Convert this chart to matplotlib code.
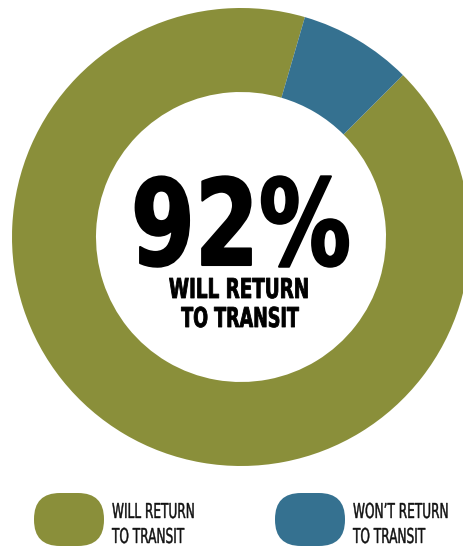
import matplotlib
matplotlib.use("Agg")
import matplotlib.pyplot as plt
import matplotlib.patheffects as pe
from matplotlib.patches import FancyBboxPatch
from matplotlib.text import Text
from matplotlib.transforms import Affine2D, Bbox

# survey shares
labels = ["WILL RETURN\nTO TRANSIT", "WON\u2019T RETURN\nTO TRANSIT"]
shares = [92, 8]
colors = ["#8a8f3a", "#357190"]
headline = "92%"
caption = "WILL RETURN\nTO TRANSIT"


class Squeeze(pe.AbstractPathEffect):
    """Narrow the glyphs horizontally around the text anchor (fake condensed face)."""

    def __init__(self, sx, stroke=0.0):
        super().__init__()
        self.sx = sx
        self.stroke = stroke
        self.text = None

    def draw_path(self, renderer, gc, tpath, affine, rgbFace=None):
        cx = self.text.get_transform().transform(self.text.get_position())[0]
        aff = affine + Affine2D().translate(-cx, 0).scale(self.sx, 1).translate(cx, 0)
        gc0 = renderer.new_gc()
        gc0.copy_properties(gc)
        if self.stroke:
            gc0.set_linewidth(self.stroke)
            gc0.set_foreground(rgbFace)
            gc0.set_joinstyle("round")
        renderer.draw_path(gc0, tpath, aff, rgbFace)
        gc0.restore()


class NarrowText(Text):
    """Text whose extent follows the squeezed glyphs."""

    def __init__(self, *args, sx=1.0, no_descent=False, **kwargs):
        self.sx = sx
        self.no_descent = no_descent
        super().__init__(*args, **kwargs)

    def get_window_extent(self, renderer=None, dpi=None):
        bb = super().get_window_extent(renderer, dpi)
        cx, cy = self.get_transform().transform(self.get_position())
        y0 = cy if self.no_descent else bb.y0
        return Bbox([[cx + (bb.x0 - cx) * self.sx, y0],
                     [cx + (bb.x1 - cx) * self.sx, bb.y1]])


def narrow_text(ax, x, y, s, sx, stroke=0.0, no_descent=False, **kw):
    t = NarrowText(x, y, s, sx=sx, no_descent=no_descent, va="baseline",
                   transform=ax.transData, **kw)
    eff = Squeeze(sx, stroke)
    eff.text = t
    t.set_path_effects([eff])
    ax.add_artist(t)
    return t


fig = plt.figure(figsize=(4.63, 5.50), dpi=100)
ax = fig.add_axes([0, 0, 1, 1])

# donut, blue slice sits just right of 12 o'clock
start = 45 + shares[1] * 3.6
ax.pie(shares, colors=colors, startangle=start, counterclock=True,
       center=(241, 313), radius=229, frame=True,
       wedgeprops=dict(width=229 - 145, linewidth=0))
ax.set_xlim(0, 463)
ax.set_ylim(0, 550)
ax.set_aspect("equal")
ax.axis("off")

# big number in the hole
narrow_text(ax, 241, 285, headline, 0.77, stroke=1.5, no_descent=True,
            ha="center", fontsize=86, family="DejaVu Sans", weight="bold",
            color="black")

l1, l2 = caption.split("\n")
narrow_text(ax, 239, 252, l1, 0.67, stroke=0.6, ha="center", fontsize=19.7,
            family="DejaVu Sans", weight="bold", color="black")
narrow_text(ax, 240, 223, l2, 0.64, stroke=0.6, ha="center", fontsize=19.7,
            family="DejaVu Sans", weight="bold", color="black")

# legend pills
for x0, lab, c in zip([34, 275], labels, colors):
    ax.add_patch(FancyBboxPatch((x0, 4), 70, 53,
                                boxstyle="round,pad=0,rounding_size=26",
                                facecolor=c, edgecolor="none"))
    a, b = lab.split("\n")
    narrow_text(ax, x0 + 78, 32, a, 0.59, stroke=0.3, ha="left", fontsize=14.8,
                family="DejaVu Sans", color="#111111")
    narrow_text(ax, x0 + 78, 7, b, 0.59, stroke=0.3, ha="left", fontsize=14.8,
                family="DejaVu Sans", color="#111111")

fig.savefig("out.png", dpi=100, facecolor="white")
